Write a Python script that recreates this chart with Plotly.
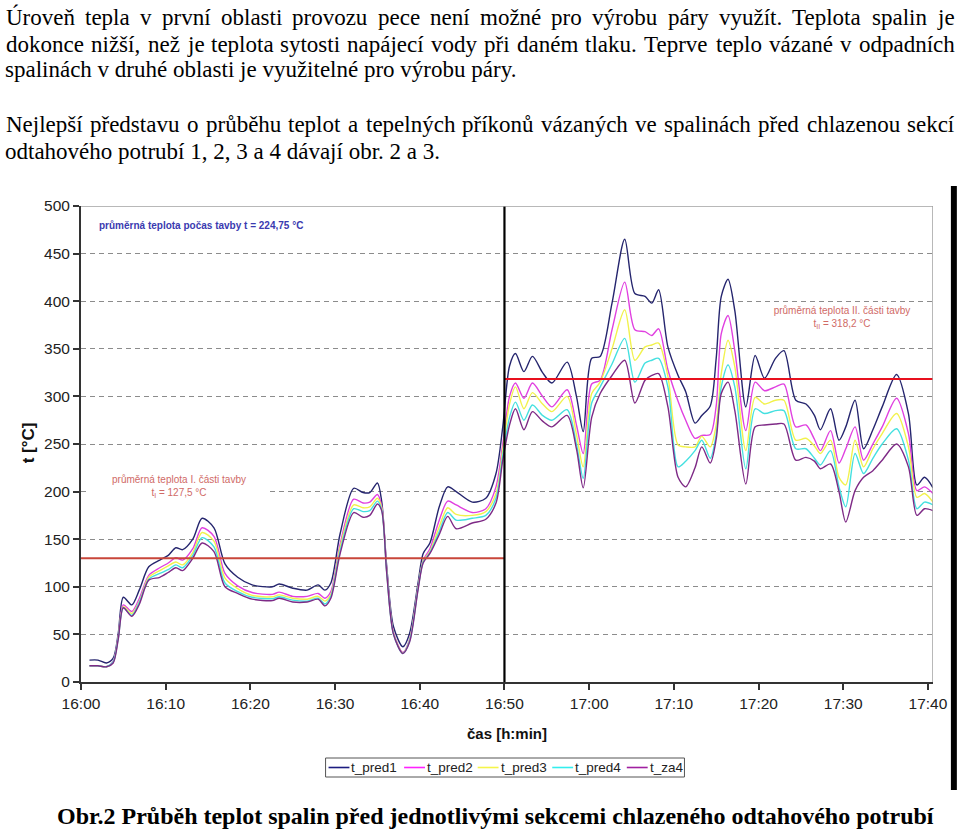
import plotly.graph_objects as go

# ---------------- data (minutes after 16:00) ----------------
minutes = [1, 2, 3, 3.8, 4.4, 5.0, 6.0, 6.9, 8.0, 9.3, 10.3, 11.2, 12.0, 13.2, 14.3, 15.7,
           17.0, 18.5, 20.2, 22.6, 23.4, 25.0, 26.7, 28.0, 28.8, 29.5, 30.6, 32.2, 33.3,
           34.1, 35.0, 35.5, 36.1, 36.9, 38.0, 38.8, 39.8, 40.4, 41.2, 42.3, 43.3, 44.3,
           46.2, 47.8, 49.0, 49.8,
           50.6, 51.3, 52.3, 53.3, 54.5, 55.6, 57.4, 58.5, 59.3, 60.3, 61.3, 62.7, 64.2,
           65.4, 66.6, 67.4, 68.2, 69.3, 70.5, 71.4, 72.5, 73.3, 74.3, 75.0, 75.6, 76.4,
           77.2, 78.5, 79.6, 80.7, 82.0, 83.0, 84.4, 85.6, 86.6, 87.3, 88.5, 89.5, 90.3,
           91.4, 92.4, 93.5, 94.6, 96.3, 97.7, 98.7, 99.6, 100.6]

t_pred1 = [23, 23, 20, 25, 51, 89, 81, 97, 121, 128, 133, 141, 139, 150, 172, 162,
           124, 110, 102, 100, 103, 98.5, 96.5, 102, 96.5, 104, 156, 203.5, 199,
           199, 209, 190, 121, 58, 37, 51, 104, 135, 146, 184, 205, 200,
           189, 193, 219, 268,
           332, 345, 326, 342, 325, 314, 336, 300, 263, 340, 342, 398, 465,
           408, 405, 398, 412, 352, 322, 305, 272, 280, 290, 340, 405, 423,
           390, 289, 343, 319, 340, 348, 296, 292, 280, 265, 287, 254, 268,
           296, 245, 265, 289, 323, 282, 207, 215, 204]

t_pred2 = [17, 17, 16, 22, 48, 81, 74, 88, 112, 120, 125, 130.5, 128, 140, 162, 153,
           114, 101, 94, 92, 94.4, 90, 90, 93, 88, 95, 145, 192, 188,
           189, 197, 185, 118, 52, 31, 45, 100, 128, 140, 170, 190, 186,
           178, 182, 205, 250,
           300, 314, 298, 314, 300, 289, 307, 270, 240, 313, 317, 370, 420,
           370, 368, 364, 371, 328, 295, 275, 256, 259, 260, 290, 366, 385,
           348, 264, 315, 306, 310, 313, 268, 270, 255, 243, 264, 230, 245,
           268, 233, 250, 268, 298, 261, 201, 205, 198]

t_pred3 = [17, 17, 16, 21, 47, 79, 72, 85, 110, 117, 122, 126, 123, 136, 157, 148,
           109, 98, 91, 89.5, 91.5, 88, 87, 90, 85, 92, 142, 186, 183,
           184, 193, 183, 116, 51, 30.5, 44, 99, 127, 137, 163, 183, 176,
           175, 179, 198, 244,
           292, 310, 287, 304, 292, 284, 300, 260, 226, 303, 315, 350, 391,
           338, 352, 354, 356, 321, 249, 247, 247, 258, 247, 270, 324, 359,
           331, 243, 299, 292, 296, 296, 254, 256, 248, 240, 254, 215, 207,
           254, 226, 245, 261, 282, 247, 194, 198, 189]

t_pred4 = [17, 17, 16, 21, 46, 78, 70, 84, 108, 114, 118, 123, 120, 133, 151.6, 142,
           104, 95, 89, 87.5, 89.5, 86, 85, 88, 82, 90, 138, 182, 179,
           180, 190, 181, 115, 50, 30, 43, 98, 126, 136, 158, 178, 170,
           172, 175, 193, 238,
           278, 294, 275, 291, 280, 275, 286, 250, 214, 293, 310, 334, 361,
           315, 335, 338, 340, 310, 226, 232, 243, 254, 235, 260, 310, 333,
           310, 224, 287, 282, 285, 285, 245, 245, 235, 228, 243, 205, 184,
           240, 219, 235, 250, 266, 233, 182, 189, 186]

t_za4 = [17, 17, 16, 20, 45, 78, 69, 82, 107, 110, 115, 120, 117, 130, 146, 137,
         100, 93, 87, 85.5, 88, 84, 84, 87, 80, 88, 135, 178, 173,
         175, 187, 180, 114, 50, 30, 42, 97, 125, 135, 155, 174, 161,
         167, 171, 188, 233,
         270, 287, 265, 284, 274, 268, 280, 245, 204, 278, 303, 322, 338,
         293, 317, 322, 324, 289, 215, 205, 225, 247, 230, 255, 303, 315,
         285, 208, 268, 270, 271, 271, 233, 236, 232, 224, 229, 200, 168,
         201, 215, 222, 233, 250, 226, 175, 182, 180]

series_names = ["t_pred1", "t_pred2", "t_pred3", "t_pred4", "t_za4"]
series_values = [t_pred1, t_pred2, t_pred3, t_pred4, t_za4]
series_colors = ["#25256e", "#e040e0", "#f2f24c", "#44e0e0", "#7e2a86"]
legend_colors = ["#1c1c80", "#ff22ff", "#f5f54a", "#33eeee", "#a020a0"]

tick_vals = [0, 10, 20, 30, 40, 50, 60, 70, 80, 90, 100]
tick_text = ["16:00", "16:10", "16:20", "16:30", "16:40", "16:50",
             "17:00", "17:10", "17:20", "17:30", "17:40"]

mean_I = 130        # drawn level of part I average line
mean_II = 318.2
split_time = 50
x_end = 100.6

paragraph_lines = [
    "Úroveň tepla v první oblasti provozu pece není možné pro výrobu páry využít. Teplota spalin je",
    "dokonce nižší, než je teplota sytosti napájecí vody při daném tlaku. Teprve teplo vázané v odpadních",
    "spalinách v druhé oblasti je využitelné pro výrobu páry.",
    "Nejlepší představu o průběhu teplot a tepelných příkonů vázaných ve spalinách před chlazenou sekcí",
    "odtahového potrubí 1, 2, 3 a 4 dávají obr. 2 a 3.",
]
caption = "Obr.2 Průběh teplot spalin před jednotlivými sekcemi chlazeného odtahového potrubí"

# ---------------- layout helpers (pixel -> paper) ----------------
L, R, T, B = 81, 938, 206, 682
def px(x):
    return (x - L) / (R - L)
def py(y):
    return (B - y) / (B - T)

# Times / Liberation Serif advance widths (1/1000 em) for justification
_W = dict(a=444, b=500, c=444, d=500, e=444, f=333, g=500, h=500, i=278, j=278, k=500,
          l=278, m=778, n=500, o=500, p=500, q=500, r=333, s=389, t=278, u=500, v=500,
          w=722, x=500, y=500, z=444)
_W.update({"Ú": 722, "T": 611, "N": 722, "O": 722, ".": 250, ",": 250, " ": 250})
_ACC = {"á": "a", "é": "e", "ě": "e", "í": "i", "ý": "y", "ů": "u", "ú": "u", "ř": "r",
        "š": "s", "ž": "z", "č": "c", "ň": "n", "ď": "d", "ť": "t"}
def word_width(wd, size):
    return sum(_W.get(_ACC.get(ch, ch), 500) for ch in wd) * size / 1000.0

fig = go.Figure()
for name, vals, col in zip(series_names, series_values, series_colors):
    fig.add_trace(go.Scatter(x=minutes, y=vals, name=name, mode="lines", showlegend=False,
                             line=dict(color=col, width=1.4, shape="spline", smoothing=0.8)))

# average lines, split line, frame
fig.add_shape(type="line", x0=0, x1=split_time, y0=mean_I, y1=mean_I,
              line=dict(color="#c8463a", width=2))
fig.add_shape(type="line", x0=split_time, x1=x_end, y0=mean_II, y1=mean_II,
              line=dict(color="#e8101e", width=2))
fig.add_shape(type="line", x0=split_time, x1=split_time, y0=0, y1=500,
              line=dict(color="#000000", width=2.2))
fig.add_shape(type="line", x0=0, x1=x_end, y0=500, y1=500,
              line=dict(color="#a0a0a0", width=1.5))
fig.add_shape(type="line", x0=x_end, x1=x_end, y0=0, y1=500,
              line=dict(color="#a0a0a0", width=1.5))
# scan border on the right
fig.add_shape(type="rect", xref="paper", yref="paper", x0=px(956), x1=px(962),
              y0=py(790), y1=py(186), fillcolor="#000000", line=dict(width=0))

ann = []
serif = "Liberation Serif"
sans = "Liberation Sans"
PSIZE = 23
line_y = [17, 44, 70, 125, 152]
justified = [True, True, False, True, False]
for txt, yy, just in zip(paragraph_lines, line_y, justified):
    if not just:
        ann.append(dict(text=txt, xref="paper", yref="paper", x=px(4), y=py(yy),
                        xanchor="left", yanchor="middle", showarrow=False, borderpad=0,
                        font=dict(family=serif, size=PSIZE, color="#000")))
        continue
    words = txt.split(" ")
    widths = [word_width(w_, PSIZE) for w_ in words]
    gap = (958 - 5 - sum(widths)) / (len(words) - 1)
    xcur = 5
    for w_, wd in zip(words, widths):
        ann.append(dict(text=w_, xref="paper", yref="paper", x=px(xcur), y=py(yy),
                        xanchor="left", yanchor="middle", showarrow=False, borderpad=0,
                        font=dict(family=serif, size=PSIZE, color="#000")))
        xcur += wd + gap

ann.append(dict(text="<b>" + caption + "</b>", xref="paper", yref="paper", x=px(497.5), y=py(816),
                xanchor="center", yanchor="middle", showarrow=False,
                font=dict(family=serif, size=24, color="#000")))

ann.append(dict(text="<b>průměrná teplota počas tavby t = 224,75 °C</b>", xref="paper", yref="paper",
                x=px(97), y=py(225), xanchor="left", yanchor="middle", showarrow=False,
                font=dict(family=sans, size=10, color="#3a3ab0")))
ann.append(dict(text="průměrná teplota I. části tavby<br>t<sub>I</sub> = 127,5 °C", xref="paper", yref="paper",
                x=px(180), y=py(486), xanchor="center", yanchor="middle", showarrow=False,
                width=176, bgcolor="#ffffff", font=dict(family=sans, size=10, color="#d06a66")))
ann.append(dict(text="průměrná teplota II. části tavby<br>t<sub>II</sub> = 318,2 °C", xref="paper", yref="paper",
                x=px(846), y=py(317), xanchor="center", yanchor="middle", showarrow=False,
                width=176, bgcolor="#ffffff", font=dict(family=sans, size=10, color="#d06a66")))
ann.append(dict(text="<b>t [°C]</b>", xref="paper", yref="paper", x=px(28), y=py(443),
                xanchor="center", yanchor="middle", textangle=-90, showarrow=False,
                font=dict(family=sans, size=17, color="#111")))
ann.append(dict(text="<b>čas [h:min]</b>", xref="paper", yref="paper", x=px(510), y=py(733),
                xanchor="center", yanchor="middle", showarrow=False,
                font=dict(family=sans, size=15, color="#111")))

# ---------------- legend box (drawn) ----------------
fig.add_shape(type="rect", xref="paper", yref="paper", x0=px(327), x1=px(688),
              y0=py(777), y1=py(758), fillcolor="#ffffff", line=dict(color="#555", width=1))
leg_x = [330, 406, 480, 555, 630]
for name, col, lx in zip(series_names, legend_colors, leg_x):
    fig.add_shape(type="line", xref="paper", yref="paper", x0=px(lx), x1=px(lx + 21),
                  y0=py(767.5), y1=py(767.5), line=dict(color=col, width=1.6))
    ann.append(dict(text=name, xref="paper", yref="paper", x=px(lx + 22), y=py(767.5),
                    xanchor="left", yanchor="middle", showarrow=False, borderpad=0,
                    font=dict(family=sans, size=13.5, color="#222")))

fig.update_layout(
    width=960, height=830, autosize=False,
    margin=dict(l=L, r=960 - R, t=T, b=830 - B, pad=0),
    paper_bgcolor="#ffffff", plot_bgcolor="#ffffff",
    annotations=ann,
    showlegend=False,
    xaxis=dict(range=[0, x_end], tickvals=tick_vals, ticktext=tick_text,
               showgrid=False, zeroline=False, showline=True, linecolor="#333", linewidth=2,
               ticks="outside", ticklen=6, tickcolor="#333", tickwidth=1.5,
               tickfont=dict(family=sans, size=15.5, color="#222")),
    yaxis=dict(range=[0, 500], dtick=50, tick0=0,
               showgrid=True, gridcolor="#8c8c8c", griddash="5px,4px", gridwidth=1.3,
               zeroline=False, showline=True, linecolor="#333", linewidth=2,
               ticks="outside", ticklen=6, tickcolor="#333", tickwidth=1.5,
               tickfont=dict(family=sans, size=15.5, color="#222")),
)

fig.write_html("out.html")
